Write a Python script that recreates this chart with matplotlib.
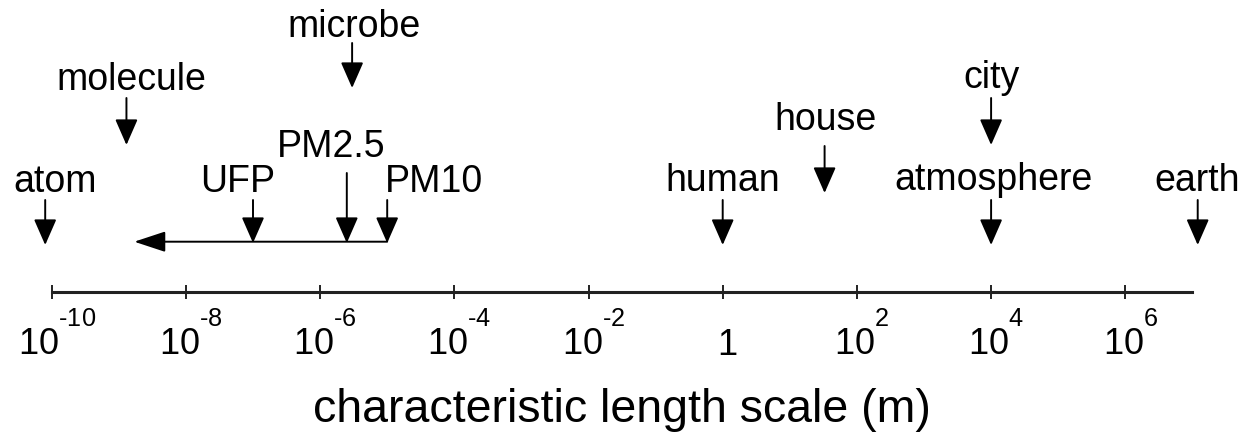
import matplotlib
matplotlib.use("Agg")
import matplotlib.pyplot as plt
import matplotlib._mathtext as _mt
from matplotlib.ticker import FixedLocator, FixedFormatter, NullLocator
from matplotlib.transforms import ScaledTranslation

plt.rcParams['font.family'] = ['Liberation Sans', 'DejaVu Sans']
plt.rcParams['mathtext.fontset'] = 'custom'
plt.rcParams['mathtext.rm'] = 'Liberation Sans'
plt.rcParams['mathtext.it'] = 'Liberation Sans:italic'
plt.rcParams['mathtext.bf'] = 'Liberation Sans:bold'
# raise superscripts so they sit on top of the base digits, as in the reference
_mt.FontConstantsBase.sup1 = 1.42

# ---------------- data ----------------
objects = ['atom', 'molecule', 'microbe', 'UFP', 'PM2.5', 'PM10',
           'human', 'house', 'city', 'atmosphere', 'earth']
sizes_m = [8e-11, 1.3e-9, 3e-6, 1e-7, 2.5e-6, 1e-5,
           1.0, 33.0, 1e4, 1e4, 1.2e7]
pm_range_m = [1e-5, 1.7e-9]          # range arrow: from PM10 towards smaller sizes
tick_values = [1e-10, 1e-8, 1e-6, 1e-4, 1e-2, 1, 1e2, 1e4, 1e6]
tick_labels = [r'$10^{\text{-10}}$', r'$10^{\text{-8}}$', r'$10^{\text{-6}}$',
               r'$10^{\text{-4}}$', r'$10^{\text{-2}}$', '1',
               r'$10^{2}$', r'$10^{4}$', r'$10^{6}$']
x_label = 'characteristic length scale (m)'
x_range = [1e-10, 1e7]

# ---------------- layout (pixels from top of figure) ----------------
W, H = 1245, 440
ax_left_px, ax_right_px, axis_y_px = 51.7, 1192.4, 292
# per label: (arrow tail y, arrow head y, text dx px, text baseline y)
layout = {
    'atom':       (200, 245, 10, 192),
    'molecule':   (98, 145, 5, 90),
    'microbe':    (43, 88, 2, 37),
    'UFP':        (200, 243, -15, 192),
    'PM2.5':      (173, 243, -16, 157),
    'PM10':       (200, 243, 47, 192),
    'human':      (200, 245, 0, 191),
    'house':      (146, 193, 1, 130),
    'city':       (98, 145, 0, 88),
    'atmosphere': (200, 245, 2, 190),
    'earth':      (200, 245, -1, 191),
}
range_y = 241.7

fig = plt.figure(figsize=(W / 100, H / 100), dpi=100)
ax = fig.add_axes([ax_left_px / W, (H - axis_y_px) / H,
                   (ax_right_px - ax_left_px) / W, axis_y_px / H])
ax.set_xscale('log')
ax.set_xlim(*x_range)
ax.set_ylim(axis_y_px, 0)

for s in ['top', 'left', 'right']:
    ax.spines[s].set_visible(False)
ax.spines['bottom'].set_linewidth(2.2)
ax.spines['bottom'].set_color('#222222')
ax.yaxis.set_visible(False)

ax.xaxis.set_major_locator(FixedLocator(tick_values))
ax.xaxis.set_major_formatter(FixedFormatter(tick_labels))
ax.xaxis.set_minor_locator(NullLocator())
ax.tick_params(axis='x', direction='inout', length=9.4, width=1.4,
               color='#222222', labelsize=26, pad=40.7)
fig.canvas.draw()
shift = ScaledTranslation(5 / 100, 0, fig.dpi_scale_trans)
for lbl in ax.get_xticklabels():
    lbl.set_va('baseline')
    lbl.set_transform(lbl.get_transform() + shift)

ax.set_xlabel(x_label, fontsize=33.5, labelpad=18)

arrow_style = '-|>,head_length=0.8,head_width=0.35'
for name, val in zip(objects, sizes_m):
    tail, head, dx, base = layout[name]
    ax.annotate('', xy=(val, head), xytext=(val, tail),
                arrowprops=dict(arrowstyle=arrow_style, lw=1.4, color='black',
                                mutation_scale=20, shrinkA=0, shrinkB=0),
                annotation_clip=False)
    ax.annotate(name, xy=(val, base), xytext=(dx * 0.72, 0),
                textcoords='offset points', ha='center', va='baseline',
                fontsize=27, annotation_clip=False)

ax.annotate('', xy=(pm_range_m[1], range_y), xytext=(pm_range_m[0], range_y),
            arrowprops=dict(arrowstyle='-|>,head_length=0.97,head_width=0.32',
                            lw=1.4, color='black', mutation_scale=20,
                            shrinkA=0, shrinkB=0),
            annotation_clip=False)

fig.savefig('out.png', dpi=100)
